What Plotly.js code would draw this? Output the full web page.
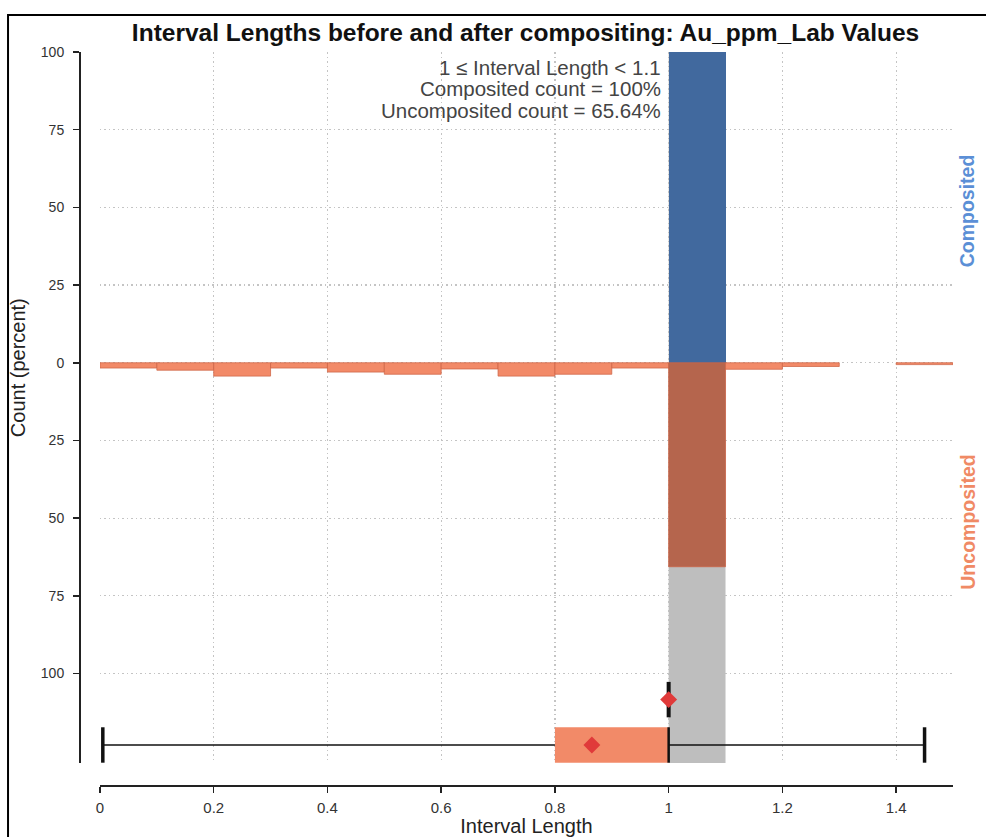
<!DOCTYPE html>
<html>
<head>
<meta charset="utf-8">
<script src="https://cdn.plot.ly/plotly-3.0.1.min.js"></script>
<style>html,body{margin:0;padding:0;background:#fff;}#chart{width:986px;height:837px;}</style>
</head>
<body>
<div id="chart"></div>
<script>
// ---- data ----
var binStarts = [0.0,0.1,0.2,0.3,0.4,0.5,0.6,0.7,0.8,0.9,1.0,1.1,1.2,1.3,1.4];
var binWidth = 0.1;
var uncompositedPct = [1.7,2.4,4.3,1.7,3.0,3.7,2.0,4.3,3.7,1.7,65.64,2.1,1.2,null,0.6];
var compositedPct   = [null,null,null,null,null,null,null,null,null,null,100,null,null,null,null];
var highlightBin = [1.0, 1.1];
// box-plot statistics: [min, q1, median, q3, max, mean]
var uncompStats = [0.005, 0.8, 1.0, 1.0, 1.45, 0.865];
var compStats   = [1.0, 1.0, 1.0, 1.0, 1.0, 1.0];
var xTickVals = [0,0.2,0.4,0.6,0.8,1.0,1.2,1.4];
var xTickText = ['0','0.2','0.4','0.6','0.8','1','1.2','1.4'];
var yTickVals = [100,75,50,25,0,-25,-50,-75,-100];
var yTickText = ['100','75','50','25','0','25','50','75','100'];
var annotationLines = ['1 \u2264 Interval Length < 1.1','Composited count = 100%','Uncomposited count = 65.64%'];

// ---- styling ----
var SALMON = '#F28A68', SALMON_DARK = '#B5654D';
var BLUE = '#578CD3', BLUE_DARK = '#41699E';
var RED = '#E03A3A';
var compY = -108.4, uncompY = -123.0, boxHalf = 5.7;
var yMin = -128.8, yMax = 100;
var annY0 = 94.9, annStep = 6.8;

var centers = binStarts.map(function(s){return s + binWidth/2;});
function inHighlight(s){ return s >= highlightBin[0]-1e-9 && s < highlightBin[1]-1e-9; }

var traces = [];
traces.push({
  type:'bar', x:centers, y:compositedPct, width:binWidth,
  marker:{color:binStarts.map(function(s){return inHighlight(s)?BLUE_DARK:BLUE;}), line:{width:0}},
  hoverinfo:'skip', showlegend:false
});
traces.push({
  type:'bar', x:centers, y:uncompositedPct.map(function(v){return v===null?null:-v;}), width:binWidth,
  marker:{color:binStarts.map(function(s){return inHighlight(s)?SALMON_DARK:SALMON;}),
          line:{color:'rgba(205,100,70,0.75)', width:1}},
  hoverinfo:'skip', showlegend:false
});

// uncomposited box
var s = uncompStats;
traces.push({ type:'scatter', mode:'lines',
  x:[s[1],s[3],s[3],s[1],s[1]], y:[uncompY-boxHalf,uncompY-boxHalf,uncompY+boxHalf,uncompY+boxHalf,uncompY-boxHalf],
  fill:'toself', fillcolor:SALMON, line:{width:0, color:SALMON}, hoverinfo:'skip', showlegend:false});
traces.push({ type:'scatter', mode:'lines', x:[s[0],s[1],null,s[3],s[4]], y:[uncompY,uncompY,null,uncompY,uncompY],
  line:{color:'#111', width:1.6}, hoverinfo:'skip', showlegend:false});
traces.push({ type:'scatter', mode:'lines', x:[s[0],s[0],null,s[4],s[4]],
  y:[uncompY-boxHalf,uncompY+boxHalf,null,uncompY-boxHalf,uncompY+boxHalf],
  line:{color:'#111', width:3.5}, hoverinfo:'skip', showlegend:false});
traces.push({ type:'scatter', mode:'lines', x:[s[2],s[2]], y:[uncompY-boxHalf,uncompY+boxHalf],
  line:{color:'#111', width:2.5}, hoverinfo:'skip', showlegend:false});
traces.push({ type:'scatter', mode:'markers', x:[s[5]], y:[uncompY],
  marker:{symbol:'diamond', size:13, color:RED}, hoverinfo:'skip', showlegend:false});

// composited box (degenerate)
var c = compStats;
traces.push({ type:'scatter', mode:'lines', x:[c[2],c[2]], y:[compY-boxHalf,compY+boxHalf],
  line:{color:'#111', width:4}, hoverinfo:'skip', showlegend:false});
traces.push({ type:'scatter', mode:'markers', x:[c[5]], y:[compY],
  marker:{symbol:'diamond', size:13, color:RED}, hoverinfo:'skip', showlegend:false});

var annotations = annotationLines.map(function(t, i){
  return {text:t, xref:'x', yref:'y', x:0.99, y:annY0 - i*annStep, xanchor:'right', yanchor:'middle',
          align:'right', showarrow:false, font:{size:20.5, color:'#444'}};
});
annotations.push({text:'<b>Composited</b>', xref:'paper', yref:'paper', x:1.016, y:0.784, textangle:-90,
     xanchor:'center', yanchor:'middle', showarrow:false, font:{size:19.5, color:'#5B8FD6'}});
annotations.push({text:'<b>Uncomposited</b>', xref:'paper', yref:'paper', x:1.017, y:0.359, textangle:-90,
     xanchor:'center', yanchor:'middle', showarrow:false, font:{size:19.5, color:'#F08A65'}});
annotations.push({text:'Count (percent)', xref:'paper', yref:'paper', x:-0.0698, y:0.570, textangle:-90,
     xanchor:'center', yanchor:'middle', showarrow:false, font:{size:20, color:'#222'}});

var GRID = {showgrid:true, gridcolor:'#c4c4c4', griddash:'1.5px,3px', gridwidth:1.2};

var layout = {
  width:986, height:837,
  margin:{l:79, r:33, t:52, b:52},
  paper_bgcolor:'#fff', plot_bgcolor:'#fff',
  barmode:'overlay', bargap:0,
  font:{family:'Liberation Sans, Arial, sans-serif', color:'#333'},
  title:{text:'<b>Interval Lengths before and after compositing: Au_ppm_Lab Values</b>',
         font:{size:24.5, color:'#111'}, x:0.533, xref:'container', xanchor:'center', y:0.961, yanchor:'middle'},
  xaxis:Object.assign({domain:[0.024,1], range:[0,1.5], anchor:'free', position:0,
         tickvals:xTickVals, ticktext:xTickText, ticks:'outside', ticklen:6, tickwidth:1.5, tickcolor:'#222',
         ticklabelstandoff:2,
         showline:true, linecolor:'#222', linewidth:1.5, zeroline:false,
         tickfont:{size:15, color:'#333'},
         title:{text:'Interval Length', font:{size:20, color:'#222'}, standoff:4}}, GRID),
  yaxis:Object.assign({domain:[0.030,1], range:[yMin,yMax], anchor:'free', position:0,
         tickvals:yTickVals, ticktext:yTickText, ticks:'outside', ticklen:6, tickwidth:1.5, tickcolor:'#222',
         ticklabelstandoff:6,
         showline:true, linecolor:'#222', linewidth:1.5, zeroline:false,
         tickfont:{size:14, color:'#333'}}, GRID),
  shapes:[
    {type:'rect', layer:'between', xref:'x', yref:'y', x0:highlightBin[0], x1:highlightBin[1], y0:yMin, y1:yMax,
     fillcolor:'#BEBEBE', line:{width:0}},
    {type:'rect', layer:'above', xref:'paper', yref:'paper', x0:-0.0812, x1:1.06, y0:-0.09, y1:1.0505,
     fillcolor:'rgba(0,0,0,0)', line:{color:'#000', width:2}}
  ],
  annotations:annotations
};
Plotly.newPlot('chart', traces, layout, {displayModeBar:false, staticPlot:true});
</script>
</body>
</html>
